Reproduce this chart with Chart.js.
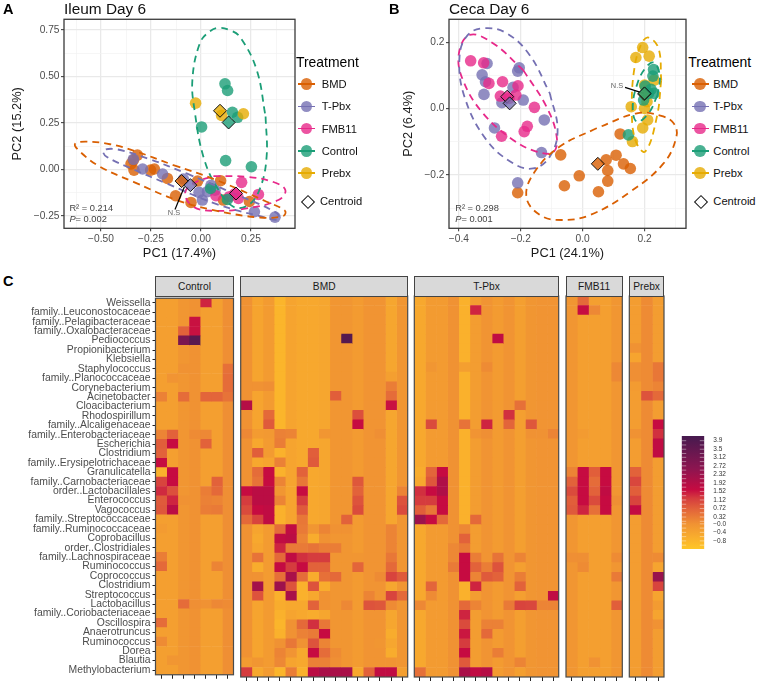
<!DOCTYPE html>
<html>
<head>
<meta charset="utf-8">
<title>Ileum and Ceca Day 6</title>
<script src="https://cdn.jsdelivr.net/npm/chart.js@4/dist/chart.umd.min.js"></script>
<style>
  html, body { margin: 0; padding: 0; background: #fff; }
  #page { position: relative; width: 760px; height: 682px; overflow: hidden; font-family: "Liberation Sans", sans-serif; }
  #page canvas { position: absolute; }
  .abs { position: absolute; white-space: nowrap; }
  .letter { font-weight: bold; font-size: 14.5px; line-height: 16px; color: #000; }
  .legend-title { font-size: 13.9px; line-height: 16px; color: #000; }
  .legend-label { font-size: 11.2px; line-height: 14px; color: #111; }
  .strip { box-sizing: border-box; background: #d9d9d9; border: 1px solid #444; font-size: 10.2px; line-height: 19px; text-align: center; color: #1a1a1a; }
</style>
</head>
<body>
<div id="page"></div>
<script>
'use strict';

// --- legend / treatment colours (Dark2) ---
const treatments = ['BMD', 'T-Pbx', 'FMB11', 'Control', 'Prebx'];
const solidColors = ['#D95F02', '#7570B3', '#E7298A', '#1B9E77', '#E6AB02'];
const pointColors = ['rgba(217,95,2,.8)', 'rgba(117,112,179,.8)', 'rgba(231,41,138,.8)', 'rgba(27,158,119,.8)', 'rgba(230,171,2,.8)'];

// --- A: Ileum Day 6 ---
const ileumBMD = [[-0.318, 0.077], [-0.338, 0.05], [-0.35, 0.029], [-0.335, -0.004], [-0.252, -0.004], [-0.233, 0.002], [-0.168, -0.049], [-0.127, -0.142], [-0.05, -0.178], [-0.017, -0.063], [0.098, -0.061], [0.112, -0.165], [0.242, -0.173]];
const ileumTPbx = [[-0.338, 0.054], [-0.292, 0.002], [-0.192, -0.025], [-0.088, -0.052], [-0.01, -0.124], [0.007, -0.165], [0.032, -0.12], [0.05, -0.086], [0.07, -0.112], [0.267, -0.228], [0.37, -0.257]];
const ileumFMB11 = [[0.203, -0.07], [0.075, -0.142], [0.142, -0.147], [0.167, -0.133], [0.187, -0.156], [0.287, -0.135]];
const ileumControl = [[0.12, 0.46], [0.133, 0.424], [0.157, 0.307], [0.183, 0.28], [0.003, 0.228], [0.123, 0.047], [0.252, 0.014], [0.048, -0.103], [0.132, -0.162]];
const ileumPrebx = [[-0.027, 0.356], [0.103, 0.29], [0.212, 0.299]];
const ileumCentroids = [[-0.097, -0.063], [-0.053, -0.085], [0.175, -0.13], [0.138, 0.252], [0.095, 0.315]];

const ileumEllipseBMD = [[-0.138, 0.023], [0.078, -0.058], [0.328, -0.174], [0.42, -0.223], [0.412, -0.25], [0.295, -0.259], [0.062, -0.219], [-0.122, -0.165], [-0.338, -0.067], [-0.505, 0.014], [-0.605, 0.095], [-0.63, 0.137], [-0.572, 0.149], [-0.455, 0.135], [-0.338, 0.101]];
const ileumEllipseTPbx = [[-0.072, -0.022], [0.162, -0.129], [0.378, -0.234], [0.387, -0.27], [0.295, -0.252], [0.078, -0.187], [-0.172, -0.076], [-0.338, 0], [-0.472, 0.068], [-0.488, 0.101], [-0.422, 0.108], [-0.255, 0.054]];
const ileumEllipseFMB11 = [[0.062, -0.036], [0.228, -0.04], [0.362, -0.068], [0.422, -0.112], [0.387, -0.165], [0.228, -0.21], [0.062, -0.223], [-0.038, -0.201], [-0.08, -0.129], [-0.038, -0.076]];
const ileumEllipseControl = [[0.323, 0.284], [0.328, 0.068], [0.295, -0.103], [0.237, -0.192], [0.162, -0.201], [0.078, -0.094], [0.012, 0.068], [-0.03, 0.302], [-0.043, 0.482], [-0.005, 0.68], [0.045, 0.743], [0.087, 0.761], [0.145, 0.748], [0.195, 0.712], [0.278, 0.536]];

const ileumTicksX = [-0.5, -0.25, 0, 0.25];
const ileumMinorX = [-0.625, -0.375, -0.125, 0.125, 0.375];
const ileumTicksY = [-0.25, 0, 0.25, 0.5, 0.75];
const ileumMinorY = [-0.125, 0.125, 0.375, 0.625];

// --- B: Ceca Day 6 ---
const cecaBMD = [[0.121, -0.076], [-0.071, -0.139], [0.108, -0.14], [0.076, -0.154], [0.132, -0.166], [0.154, -0.18], [0.081, -0.186], [-0.011, -0.202], [-0.059, -0.232], [0.081, -0.218], [0.051, -0.25], [-0.21, -0.253]];
const cecaTPbx = [[-0.309, 0.136], [-0.325, 0.102], [-0.314, 0.081], [-0.319, 0.043], [-0.205, 0.123], [-0.21, 0.113], [-0.225, 0.064], [-0.261, 0.018], [-0.192, 0.026], [-0.124, -0.034], [-0.285, -0.058], [-0.133, -0.132], [-0.21, -0.223]];
const cecaFMB11 = [[-0.362, 0.144], [-0.32, 0.138], [-0.303, 0.076], [-0.259, 0.081], [-0.209, 0.069], [-0.266, 0.038], [-0.216, 0.041], [-0.238, 0.031], [-0.156, 0.004], [-0.179, -0.053], [-0.189, -0.069], [-0.262, -0.083]];
const cecaControl = [[0.229, 0.118], [0.227, 0.098], [0.202, 0.068], [0.221, 0.058], [0.231, 0.046], [0.197, 0.026], [0.213, 0.046], [0.148, -0.079]];
const cecaPrebx = [[0.194, 0.184], [0.172, 0.154], [0.215, 0.158], [0.231, 0.086], [0.2, 0.071], [0.157, 0.006], [0.2, 0.001], [0.208, 0.021], [0.21, -0.034], [0.194, -0.058], [0.161, -0.099]];
const cecaCentroids = [[0.049, -0.166], [-0.236, 0.016], [-0.244, 0.036], [0.2, 0.046], [0.199, 0.044]];

const cecaEllipseBMD = [[0.045, -0.059], [-0.074, -0.114], [-0.155, -0.19], [-0.182, -0.265], [-0.138, -0.32], [-0.068, -0.335], [0.024, -0.32], [0.154, -0.25], [0.262, -0.164], [0.303, -0.084], [0.294, -0.044], [0.251, -0.021], [0.175, -0.014]];
const cecaEllipseTPbx = [[-0.106, 0.046], [-0.081, -0.064], [-0.106, -0.144], [-0.16, -0.18], [-0.225, -0.164], [-0.311, -0.094], [-0.382, 0.036], [-0.398, 0.156], [-0.371, 0.222], [-0.317, 0.242], [-0.246, 0.227], [-0.171, 0.161]];
const cecaEllipseFMB11 = [[-0.192, 0.116], [-0.117, 0.006], [-0.084, -0.084], [-0.095, -0.131], [-0.149, -0.129], [-0.225, -0.094], [-0.322, -0.014], [-0.387, 0.086], [-0.4, 0.166], [-0.365, 0.222], [-0.29, 0.197]];
const cecaEllipseControl = [[0.242, 0.041], [0.213, -0.014], [0.175, -0.039], [0.162, 0.006], [0.177, 0.076], [0.202, 0.121], [0.229, 0.139], [0.249, 0.101]];
const cecaEllipsePrebx = [[0.254, 0.086], [0.24, -0.024], [0.202, -0.129], [0.17, -0.094], [0.159, 0.006], [0.168, 0.126], [0.191, 0.197], [0.213, 0.214], [0.245, 0.182]];

const cecaTicksX = [-0.4, -0.2, 0, 0.2];
const cecaMinorX = [-0.3, -0.1, 0.1, 0.3];
const cecaTicksY = [-0.2, 0, 0.2];
const cecaMinorY = [-0.3, -0.1, 0.1];

// --- C: heatmap ---
const taxa = ['Weissella', 'family..Leuconostocaceae', 'family..Pelagibacteraceae', 'family..Oxalobacteraceae', 'Pediococcus', 'Propionibacterium', 'Klebsiella', 'Staphylococcus', 'family..Planococcaceae', 'Corynebacterium', 'Acinetobacter', 'Cloacibacterium', 'Rhodospirillum', 'family..Alcaligenaceae', 'family..Enterobacteriaceae', 'Escherichia', 'Clostridium', 'family..Erysipelotrichaceae', 'Granulicatella', 'family..Carnobacteriaceae', 'order..Lactobacillales', 'Enterococcus', 'Vagococcus', 'family..Streptococcaceae', 'family..Ruminococcaceae', 'Coprobacillus', 'order..Clostridiales', 'family..Lachnospiraceae', 'Ruminococcus', 'Coprococcus', 'Clostridium', 'Streptococcus', 'Lactobacillus', 'family..Coriobacteriaceae', 'Oscillospira', 'Anaerotruncus', 'Ruminococcus', 'Dorea', 'Blautia', 'Methylobacterium'];

// usual level of each sample column, then the cells that differ: [row, column, value]
const controlBase = [-0.3, -0.3, -0.1, 0.0, -0.3, -0.3, 0.05];
const controlCells = [[0, 4, 1.4], [2, 3, 1.55], [3, 2, 0.7], [3, 3, 1.55], [4, 2, 3.0], [4, 3, 3.7], [7, 2, 0.0], [7, 6, 0.5], [8, 1, -0.05], [8, 6, 0.55], [9, 6, 0.55], [10, 0, 0.25], [10, 2, 0.55], [10, 4, 0.65], [10, 5, 0.65], [10, 6, 0.45], [14, 0, 0.2], [14, 1, 0.7], [14, 3, 0.1], [14, 4, 0.15], [15, 0, 0.75], [15, 1, 1.6], [15, 4, 0.7], [16, 0, 0.7], [17, 0, 1.6], [18, 0, -0.7], [18, 1, 1.6], [19, 0, 1.1], [19, 1, 1.6], [19, 5, 0.7], [20, 0, 1.35], [20, 1, 0.95], [20, 4, 0.3], [20, 5, 0.6], [21, 0, 0.8], [21, 1, 1.4], [21, 2, 0.0], [21, 4, 0.25], [21, 5, 0.2], [22, 0, 0.85], [22, 1, 1.8], [22, 4, 0.3], [22, 5, 0.35], [24, 0, -0.2], [27, 0, 0.3], [28, 0, 0.6], [28, 5, 0.2], [32, 2, 0.55], [32, 3, 0.05], [32, 4, 0.0], [32, 5, 0.15], [32, 6, 0.1], [34, 0, 0.55], [36, 0, 0.1], [38, 1, -0.1]];

const bmdBase = [0.0, -0.4, -0.2, -0.8, -0.4, -0.5, -0.5, -0.45, -0.1, -0.1, -0.2, -0.05, -0.05, -0.45, -0.1];
const bmdCells = [[4, 9, 3.8], [8, 13, -0.3], [9, 1, 0.0], [9, 2, 0.05], [9, 13, 0.3], [10, 8, 0.75], [10, 13, 0.55], [11, 0, 1.9], [11, 13, 1.55], [12, 2, 0.6], [12, 10, 0.95], [13, 2, 0.8], [13, 10, 1.6], [14, 0, 0.15], [14, 1, -0.2], [14, 2, -0.15], [14, 3, 0.25], [14, 4, 0.2], [14, 7, -0.1], [14, 12, 0.05], [15, 1, -0.5], [15, 3, 0.3], [16, 1, 0.75], [16, 3, -0.7], [16, 6, 0.75], [17, 1, -0.5], [17, 2, -0.4], [17, 3, 0.25], [17, 6, 0.8], [18, 1, 0.55], [18, 2, 1.6], [18, 3, -0.7], [18, 5, 0.7], [19, 1, 0.45], [19, 2, 1.6], [19, 3, 0.2], [19, 5, 0.4], [19, 10, 0.85], [20, 0, 1.6], [20, 1, 1.8], [20, 2, 1.8], [20, 3, -0.1], [20, 5, 1.6], [20, 10, 0.7], [20, 14, 0.2], [21, 0, 1.2], [21, 1, 1.8], [21, 2, 1.8], [21, 3, 0.2], [21, 5, 1.2], [21, 10, 0.9], [21, 14, 0.9], [22, 0, 1.0], [22, 1, 1.6], [22, 2, 1.7], [22, 3, -0.7], [22, 5, 0.8], [22, 10, 1.0], [22, 14, 1.0], [23, 0, 0.6], [23, 1, 1.1], [23, 2, 1.7], [23, 3, -0.7], [23, 5, 0.4], [23, 9, 0.7], [24, 3, 0.55], [24, 4, 1.7], [24, 5, 0.35], [24, 6, -0.1], [24, 7, 0.2], [24, 8, 0.0], [24, 9, 0.0], [24, 13, 0.2], [25, 1, -0.5], [25, 3, 1.7], [25, 4, 1.8], [25, 5, 0.2], [25, 6, -0.6], [25, 7, 0.0], [25, 13, 0.2], [26, 3, 1.4], [26, 4, 0.35], [26, 5, 0.35], [26, 6, 0.45], [26, 7, 0.3], [26, 8, 0.3], [26, 13, 0.2], [27, 1, 0.45], [27, 3, 0.6], [27, 4, 1.7], [27, 5, 1.3], [27, 6, 1.2], [27, 7, 1.2], [27, 10, -0.1], [27, 13, 0.4], [28, 1, -0.6], [28, 3, 1.65], [28, 4, 1.2], [28, 5, 1.6], [28, 6, 0.7], [28, 7, 0.7], [28, 10, 0.65], [28, 13, 0.6], [29, 1, 0.0], [29, 3, 0.5], [29, 4, 2.1], [29, 5, 0.55], [29, 6, -0.6], [29, 7, 0.5], [29, 8, 0.6], [29, 12, 0.1], [29, 13, 1.1], [29, 14, 0.8], [30, 1, 2.2], [30, 3, 2.3], [30, 4, 0.9], [30, 5, -0.7], [30, 6, 0.9], [30, 7, -0.6], [31, 1, 0.9], [31, 3, -0.7], [31, 4, 2.1], [31, 5, -0.7], [31, 6, -0.5], [31, 7, 0.0], [31, 11, 0.2], [31, 13, 1.1], [31, 14, 0.6], [32, 3, -0.6], [32, 4, -0.5], [32, 5, -0.5], [32, 6, 0.7], [32, 7, 0.0], [32, 9, 0.15], [32, 11, 0.9], [32, 12, 0.85], [32, 13, 0.1], [33, 3, -0.7], [33, 6, -0.6], [34, 4, 0.0], [34, 5, 0.6], [34, 6, 1.3], [34, 7, 0.4], [34, 12, -0.05], [35, 3, -0.7], [35, 4, 0.0], [35, 5, 0.25], [35, 6, 0.35], [35, 7, 1.6], [35, 13, -0.6], [36, 3, 0.0], [36, 4, 0.4], [36, 5, 0.0], [36, 6, 0.9], [36, 7, 0.2], [36, 12, -0.1], [37, 3, 0.2], [37, 4, -0.05], [37, 6, 1.6], [37, 7, 0.55], [37, 8, 0.1], [37, 13, -0.6], [38, 0, -0.2], [38, 1, -0.1], [38, 3, 0.15], [38, 6, 0.25], [38, 7, 0.25], [38, 8, 0.05], [38, 12, -0.05], [38, 13, -0.05], [39, 0, 1.2], [39, 1, -0.5], [39, 2, -0.2], [39, 3, -0.8], [39, 4, 0.3], [39, 5, -0.7], [39, 6, 1.8], [39, 7, 2.1], [39, 8, 2.1], [39, 9, 2.1], [39, 10, -0.5], [39, 11, 0.7], [39, 12, 1.7], [39, 13, 1.7], [39, 14, -0.3]];

const tpbxBase = [-0.5, -0.2, -0.2, 0.0, -0.7, -0.25, -0.05, -0.2, -0.05, -0.3, -0.1, -0.05, -0.05];
const tpbxCells = [[1, 5, 1.4], [4, 7, 1.7], [7, 1, -0.1], [7, 4, -0.3], [7, 6, 0.1], [11, 9, 0.5], [12, 8, 1.3], [13, 1, 1.0], [13, 4, 0.45], [13, 6, 1.4], [13, 8, 0.65], [13, 10, 0.85], [14, 5, -0.05], [14, 6, 0.05], [14, 10, 0.0], [14, 11, 0.0], [14, 12, 0.2], [18, 0, -0.6], [18, 1, 0.65], [18, 2, 1.6], [19, 1, 0.85], [19, 2, 2.0], [20, 0, 1.3], [20, 1, 1.6], [20, 2, 2.0], [21, 0, 1.2], [21, 1, 1.2], [21, 2, 1.6], [22, 0, 0.75], [22, 1, 0.4], [22, 2, 1.6], [23, 0, 2.3], [23, 1, 1.6], [23, 2, 0.6], [23, 5, 0.6], [24, 4, 0.15], [25, 4, 0.7], [26, 3, 0.15], [26, 4, 0.35], [27, 3, 0.15], [27, 4, 1.6], [27, 5, 0.3], [27, 7, 0.45], [27, 9, 0.2], [28, 3, 0.35], [28, 4, 1.6], [28, 5, 0.7], [28, 6, 0.3], [28, 7, 0.9], [29, 4, 1.6], [29, 5, 0.2], [29, 6, 0.8], [29, 7, 0.7], [29, 9, 0.3], [30, 1, 0.65], [30, 4, -0.7], [30, 5, 1.4], [30, 9, 0.7], [31, 1, 0.1], [31, 4, -0.7], [31, 12, 1.7], [32, 0, 0.15], [32, 4, 0.6], [32, 5, 0.2], [32, 8, 0.35], [32, 9, 1.1], [32, 10, 1.05], [32, 11, 0.2], [32, 12, 0.2], [33, 4, 1.4], [34, 4, 1.0], [34, 6, 0.25], [34, 7, 0.25], [35, 4, 1.5], [35, 6, 0.6], [36, 4, 1.2], [37, 4, 1.6], [37, 7, 0.3], [38, 4, 0.8], [38, 9, 0.2], [39, 0, 0.5], [39, 4, 2.1], [39, 5, 1.7], [39, 6, 1.9]];

const fmbBase = [-0.1, -0.3, -0.3, -0.3, -0.1];
const fmbCells = [[0, 1, 0.6], [1, 1, 1.6], [1, 2, 0.15], [7, 4, 0.15], [8, 4, 0.15], [14, 1, -0.2], [18, 0, 0.2], [18, 1, 1.6], [18, 2, 0.75], [18, 3, 1.6], [19, 0, 0.7], [19, 1, 1.6], [19, 2, 0.55], [19, 3, 1.6], [20, 0, 1.0], [20, 1, 1.6], [20, 2, 0.7], [20, 3, 1.7], [21, 0, 0.75], [21, 1, 1.6], [21, 2, 1.0], [21, 3, 1.6], [21, 4, 0.05], [22, 0, 0.8], [22, 1, 1.4], [22, 2, 0.5], [22, 3, 1.6], [27, 0, 0.05], [27, 1, 0.05], [27, 4, 0.1], [28, 1, 0.1], [29, 4, 0.35], [32, 4, 0.75], [38, 2, 0.0]];

const prebxBase = [-0.25, 0.1, -0.25];
const prebxCells = [[5, 0, 0.0], [6, 0, -0.4], [7, 0, 0.05], [7, 2, 0.4], [8, 0, 0.05], [8, 2, 0.4], [9, 0, -0.2], [9, 2, 0.2], [10, 1, 0.9], [10, 2, 0.6], [13, 2, 1.6], [14, 0, 0.0], [14, 2, 1.3], [15, 2, 1.7], [16, 2, 1.7], [18, 0, 0.7], [19, 0, 1.05], [20, 0, 0.75], [21, 0, 1.1], [22, 0, 1.65], [27, 2, 0.1], [28, 2, -0.4], [29, 2, 2.4], [30, 2, 1.1], [31, 2, -0.4], [32, 2, -0.2], [33, 2, -0.4], [34, 2, 0.0]];

// colour scale [value, colour], and the tick labels of the colour bar
const heatStops = [[-1.18, '#fec627'], [-0.8, '#fbb52b'], [0, '#f09233'], [0.7, '#e2623a'], [1.2, '#d53c3e'], [1.6, '#c60b41'], [2.6, '#8c1550'], [4.12, '#461a4f']];
const colorbarTicks = [-0.8, -0.4, 0, 0.32, 0.72, 1.12, 1.52, 1.92, 2.32, 2.72, 3.12, 3.5, 3.9];
const colorbarLabels = ['−0.8', '−0.4', '−0.0', '0.32', '0.72', '1.12', '1.52', '1.92', '2.32', '2.72', '3.12', '3.5', '3.9'];
const colorbarMarks = [-1, -0.8, -0.6, -0.4, -0.2, 0, 0.12, 0.32, 0.52, 0.72, 0.92, 1.12, 1.32, 1.52, 1.72, 1.92, 2.12, 2.32, 2.52, 2.72, 2.92, 3.12, 3.3, 3.5, 3.7, 3.9];

const page = document.getElementById('page');
const FONT = '"Liberation Sans", sans-serif';
const TICK_COLOR = '#4d4d4d';

function addCanvas(left, top, width, height) {
    const canvas = document.createElement('canvas');
    canvas.width = width;
    canvas.height = height;
    canvas.style.left = left + 'px';
    canvas.style.top = top + 'px';
    canvas.style.width = width + 'px';
    canvas.style.height = height + 'px';
    page.appendChild(canvas);
    return canvas;
}

function addText(cls, text, left, top) {
    const el = document.createElement('div');
    el.className = 'abs ' + cls;
    el.textContent = text;
    el.style.left = left + 'px';
    el.style.top = top + 'px';
    page.appendChild(el);
    return el;
}

function signed(v, digits) {
    return (v < 0 ? '−' : '') + Math.abs(v).toFixed(digits);
}

// dark frame round the plot area
const framePlugin = {
    id: 'frame',
    afterDraw(chart, args, opts) {
        if (!opts.color) {
            return;
        }
        const a = chart.chartArea;
        const ctx = chart.ctx;
        ctx.save();
        ctx.strokeStyle = opts.color;
        ctx.lineWidth = opts.width || 1.2;
        ctx.strokeRect(a.left, a.top, a.right - a.left, a.bottom - a.top);
        ctx.restore();
    }
};

// R2 / P text and the N.S labels, placed in data units
const notesPlugin = {
    id: 'notes',
    afterDatasetsDraw(chart, args, opts) {
        const ctx = chart.ctx;
        ctx.save();
        ctx.textBaseline = 'middle';
        (opts.items || []).forEach(item => {
            let px = chart.scales.x.getPixelForValue(item.x);
            const py = chart.scales.y.getPixelForValue(item.y);
            ctx.fillStyle = item.color || '#444';
            ctx.textAlign = item.align || 'left';
            if (item.italic) {
                ctx.font = 'italic ' + item.size + 'px ' + FONT;
                ctx.fillText(item.italic, px, py);
                px += ctx.measureText(item.italic).width;
            }
            ctx.font = item.size + 'px ' + FONT;
            ctx.fillText(item.text, px, py);
        });
        ctx.restore();
    }
};

function closed(points) {
    return points.concat([points[0]]);
}

function ellipseDataset(points, colorIndex) {
    return {
        type: 'scatter',
        data: closed(points),
        showLine: true,
        fill: false,
        tension: 0.4,
        borderColor: solidColors[colorIndex],
        borderWidth: 1.8,
        borderDash: [7, 5],
        pointRadius: 0,
        order: 2
    };
}

function pointDataset(points, colorIndex, order) {
    return {
        data: points,
        showLine: false,
        pointRadius: 5.8,
        pointBackgroundColor: pointColors[colorIndex],
        pointBorderWidth: 0,
        order: order
    };
}

function centroidDatasets(points) {
    return points.map((p, i) => ({
        data: [p],
        showLine: false,
        pointStyle: 'rectRot',
        pointRadius: 6.5,
        pointBackgroundColor: pointColors[i],
        pointBorderColor: '#111',
        pointBorderWidth: 1,
        order: 0
    }));
}

function pcaScale(major, minor, digits, limits, title, titlePad, fixed) {
    return {
        type: 'linear',
        min: limits[0],
        max: limits[1],
        afterBuildTicks(scale) {
            scale.ticks = major.concat(minor).sort((a, b) => a - b).map(v => ({ value: v }));
        },
        afterFit(scale) {
            if (fixed.width) {
                scale.width = fixed.width;
            } else {
                scale.height = fixed.height;
            }
        },
        ticks: {
            autoSkip: false,
            maxRotation: 0,
            minRotation: 0,
            padding: 1.5,
            color: TICK_COLOR,
            font: { family: FONT, size: 10.2 },
            callback: value => major.includes(value) ? signed(value, digits) : ''
        },
        grid: {
            color: ctx => major.includes(ctx.tick && ctx.tick.value) ? '#e9e9e9' : '#f2f2f2',
            lineWidth: ctx => major.includes(ctx.tick && ctx.tick.value) ? 1.3 : 0.7,
            tickColor: ctx => major.includes(ctx.tick && ctx.tick.value) ? '#333' : 'rgba(0,0,0,0)',
            tickLength: 3,
            tickWidth: 1
        },
        border: { display: false },
        title: {
            display: true,
            text: title,
            color: '#1a1a1a',
            font: { family: FONT, size: 12.8 },
            padding: titlePad
        }
    };
}

function pcaChart(cfg) {
    const canvas = addCanvas(cfg.left, 0, cfg.width, 270);
    return new Chart(canvas, {
        type: 'scatter',
        data: { datasets: cfg.datasets },
        plugins: [framePlugin, notesPlugin],
        options: {
            responsive: false,
            animation: false,
            layout: { autoPadding: false, padding: { top: 0.8, right: 2 } },
            scales: {
                x: pcaScale(cfg.ticksX, cfg.minorX, cfg.digits, cfg.limX, cfg.titleX, { top: 0, bottom: 8.5 }, { height: 41.7 }),
                y: pcaScale(cfg.ticksY, cfg.minorY, cfg.digits, cfg.limY, cfg.titleY, { top: cfg.titlePadY, bottom: 0 }, { width: cfg.axisWidth })
            },
            plugins: {
                legend: { display: false },
                tooltip: { enabled: false },
                title: {
                    display: true,
                    text: cfg.title,
                    align: 'start',
                    fullSize: false,
                    color: '#111',
                    padding: 0,
                    font: { family: FONT, size: 15.4, weight: 'normal' }
                },
                frame: { color: '#3a3a3a', width: 1.3 },
                notes: { items: cfg.notes }
            }
        }
    });
}

// A
pcaChart({
    left: 0,
    width: 297,
    axisWidth: 64,
    title: 'Ileum Day 6',
    titleX: 'PC1 (17.4%)',
    titleY: 'PC2 (15.2%)',
    titlePadY: 10,
    digits: 2,
    ticksX: ileumTicksX,
    minorX: ileumMinorX,
    ticksY: ileumTicksY,
    minorY: ileumMinorY,
    limX: [-0.685, 0.47],
    limY: [-0.317, 0.807],
    datasets: [
        ...centroidDatasets(ileumCentroids),
        { data: [[-0.083, -0.094], [-0.13, -0.216]], showLine: true, borderColor: '#000', borderWidth: 1.2, pointRadius: 0, order: 1 },
        ellipseDataset(ileumEllipseBMD, 0),
        ellipseDataset(ileumEllipseTPbx, 1),
        ellipseDataset(ileumEllipseFMB11, 2),
        ellipseDataset(ileumEllipseControl, 3),
        pointDataset(ileumPrebx, 4, 3),
        pointDataset(ileumControl, 3, 4),
        pointDataset(ileumFMB11, 2, 5),
        pointDataset(ileumTPbx, 1, 6),
        pointDataset(ileumBMD, 0, 7)
    ],
    notes: [
        { x: -0.658, y: -0.21, text: 'R² = 0.214', size: 9.3 },
        { x: -0.658, y: -0.27, italic: 'P', text: '= 0.002', size: 9.3 },
        { x: -0.135, y: -0.237, text: 'N.S', size: 7.4, align: 'center', color: '#666' }
    ]
});

// B
pcaChart({
    left: 380,
    width: 308,
    axisWidth: 69,
    title: 'Ceca Day 6',
    titleX: 'PC1 (24.1%)',
    titleY: 'PC2 (6.4%)',
    titlePadY: 21,
    digits: 1,
    ticksX: cecaTicksX,
    minorX: cecaMinorX,
    ticksY: cecaTicksY,
    minorY: cecaMinorY,
    limX: [-0.432, 0.334],
    limY: [-0.36, 0.269],
    datasets: [
        ...centroidDatasets(cecaCentroids),
        { data: [[0.137, 0.064], [0.197, 0.046]], showLine: true, borderColor: '#000', borderWidth: 1.2, pointRadius: 0, order: 1 },
        ellipseDataset(cecaEllipseBMD, 0),
        ellipseDataset(cecaEllipseTPbx, 1),
        ellipseDataset(cecaEllipseFMB11, 2),
        ellipseDataset(cecaEllipseControl, 3),
        ellipseDataset(cecaEllipsePrebx, 4),
        pointDataset(cecaControl, 3, 3),
        pointDataset(cecaPrebx, 4, 4),
        pointDataset(cecaFMB11, 2, 5),
        pointDataset(cecaTPbx, 1, 6),
        pointDataset(cecaBMD, 0, 7)
    ],
    notes: [
        { x: -0.412, y: -0.3, text: 'R² = 0.298', size: 9.3 },
        { x: -0.412, y: -0.333, italic: 'P', text: '= 0.001', size: 9.3 },
        { x: 0.111, y: 0.069, text: 'N.S', size: 7.4, align: 'center', color: '#666' }
    ]
});

// legends of A and B are plain html next to the plots
function addLegend(titleLeft, keyCenter, labelLeft, centroidCenter, centroidLabelLeft) {
    addText('legend-title', 'Treatment', titleLeft, 54);
    treatments.forEach((name, i) => {
        const y = 84 + i * 22.3;
        const line = document.createElement('div');
        line.className = 'abs';
        line.style.cssText += `left:${keyCenter - 8.5}px;top:${y - 0.75}px;width:17px;height:1.5px;background:${solidColors[i]};`;
        page.appendChild(line);
        const dot = document.createElement('div');
        dot.className = 'abs';
        dot.style.cssText += `left:${keyCenter - 5.8}px;top:${y - 5.8}px;width:11.6px;height:11.6px;border-radius:50%;background:${pointColors[i]};`;
        page.appendChild(dot);
        addText('legend-label', name, labelLeft, y - 7);
    });
    const mark = document.createElement('div');
    mark.className = 'abs';
    mark.style.cssText += `left:${centroidCenter - 4.5}px;top:${201 - 4.5}px;width:8px;height:8px;border:1px solid #111;background:#fff;transform:rotate(45deg);`;
    page.appendChild(mark);
    addText('legend-label', 'Centroid', centroidLabelLeft, 194);
}
addLegend(296, 306.5, 321.7, 307, 320);
addLegend(688.3, 700, 713.3, 700.7, 713.3);

addText('letter', 'A', 3, 1);
addText('letter', 'B', 389, 1);
addText('letter', 'C', 3, 273);

// --- heatmap facets, one stacked horizontal bar chart each ---
function heatColor(v) {
    for (let i = 1; i < heatStops.length; i++) {
        if (v <= heatStops[i][0]) {
            const [v0, c0] = heatStops[i - 1];
            const [v1, c1] = heatStops[i];
            const t = Math.max(0, (v - v0) / (v1 - v0));
            const rgb = [1, 3, 5].map(p => {
                const a = parseInt(c0.substr(p, 2), 16);
                const b = parseInt(c1.substr(p, 2), 16);
                return Math.round(a + (b - a) * t);
            });
            return `rgb(${rgb.join(',')})`;
        }
    }
    return heatStops[heatStops.length - 1][1];
}

function buildGrid(base, cells) {
    const grid = taxa.map(() => base.slice());
    cells.forEach(([row, col, value]) => {
        grid[row][col] = value;
    });
    return grid;
}

const HEAT_TOP = 296;
const HEAT_BOTTOM = 677;
const CANVAS_TOP = 290;
const CANVAS_HEIGHT = 393;

function heatFacet(name, left, right, base, cells, showLabels) {
    const grid = buildGrid(base, cells);
    const canvasLeft = showLabels ? 0 : Math.floor(left) - 2;
    const canvasWidth = Math.ceil(right) + 2 - canvasLeft;
    const canvas = addCanvas(canvasLeft, CANVAS_TOP, canvasWidth, CANVAS_HEIGHT);

    const strip = addText('strip', name, left - 0.5, 275.5);
    strip.style.width = (right - left + 1) + 'px';
    strip.style.height = '21px';

    new Chart(canvas, {
        type: 'bar',
        data: {
            labels: taxa,
            datasets: base.map((_, col) => ({
                data: taxa.map(() => 1),
                backgroundColor: grid.map(row => heatColor(row[col])),
                barPercentage: 1,
                categoryPercentage: 1,
                borderWidth: 0
            }))
        },
        plugins: [framePlugin],
        options: {
            indexAxis: 'y',
            responsive: false,
            animation: false,
            layout: {
                autoPadding: false,
                padding: {
                    top: HEAT_TOP - CANVAS_TOP,
                    left: showLabels ? 0 : left - canvasLeft,
                    right: canvasLeft + canvasWidth - right
                }
            },
            scales: {
                x: {
                    type: 'linear',
                    stacked: true,
                    min: 0,
                    max: base.length,
                    afterBuildTicks(scale) {
                        scale.ticks = base.map((_, col) => ({ value: col + 0.5 }));
                    },
                    afterFit(scale) {
                        scale.height = CANVAS_TOP + CANVAS_HEIGHT - HEAT_BOTTOM;
                    },
                    ticks: { autoSkip: false, maxRotation: 0, callback: () => '' },
                    grid: { drawOnChartArea: false, tickLength: 4, tickColor: '#222', tickWidth: 1 },
                    border: { display: false }
                },
                y: {
                    stacked: true,
                    display: showLabels,
                    afterFit(scale) {
                        if (showLabels) {
                            scale.width = left;
                        }
                    },
                    ticks: {
                        autoSkip: false,
                        padding: 2,
                        color: TICK_COLOR,
                        font: { family: FONT, size: 10.4 }
                    },
                    grid: { offset: false, drawOnChartArea: false, tickLength: 3, tickColor: '#222', tickWidth: 1 },
                    border: { display: false }
                }
            },
            plugins: {
                legend: { display: false },
                tooltip: { enabled: false },
                frame: { color: '#4a4a4a', width: 1.2 }
            }
        }
    });
}

heatFacet('Control', 155.5, 233.5, controlBase, controlCells, true);
heatFacet('BMD', 240.7, 407.7, bmdBase, bmdCells, false);
heatFacet('T-Pbx', 414.3, 558.7, tpbxBase, tpbxCells, false);
heatFacet('FMB11', 566, 622.3, fmbBase, fmbCells, false);
heatFacet('Prebx', 629.3, 664, prebxBase, prebxCells, false);

// --- colour bar ---
const BAR_MIN = heatStops[0][0];
const BAR_MAX = heatStops[heatStops.length - 1][0];

const colorbarMarkPlugin = {
    id: 'colorbarMarks',
    afterDatasetsDraw(chart) {
        const ctx = chart.ctx;
        const a = chart.chartArea;
        ctx.save();
        ctx.strokeStyle = 'rgba(255,255,255,.6)';
        ctx.lineWidth = 0.7;
        colorbarMarks.forEach(v => {
            const y = chart.scales.y.getPixelForValue(v);
            ctx.beginPath();
            ctx.moveTo(a.left, y);
            ctx.lineTo(a.left + 4.5, y);
            ctx.moveTo(a.right - 4.5, y);
            ctx.lineTo(a.right, y);
            ctx.stroke();
        });
        ctx.restore();
    }
};

new Chart(addCanvas(678, 430, 50, 125), {
    type: 'bar',
    data: {
        labels: ['value'],
        datasets: [{
            data: [[BAR_MIN, BAR_MAX]],
            barPercentage: 1,
            categoryPercentage: 1,
            borderWidth: 0,
            backgroundColor(ctx) {
                const y = ctx.chart.scales.y;
                if (!ctx.chart.chartArea || !y) {
                    return heatStops[4][1];
                }
                const g = ctx.chart.ctx.createLinearGradient(0, y.getPixelForValue(BAR_MIN), 0, y.getPixelForValue(BAR_MAX));
                heatStops.forEach(([v, c]) => g.addColorStop((v - BAR_MIN) / (BAR_MAX - BAR_MIN), c));
                return g;
            }
        }]
    },
    plugins: [colorbarMarkPlugin],
    options: {
        responsive: false,
        animation: false,
        layout: { autoPadding: false, padding: { top: 6, bottom: 6, left: 3.7 } },
        scales: {
            x: { display: false },
            y: {
                position: 'right',
                min: BAR_MIN,
                max: BAR_MAX,
                afterBuildTicks(scale) {
                    scale.ticks = colorbarTicks.map(v => ({ value: v }));
                },
                afterFit(scale) {
                    scale.width = 23.7;
                },
                ticks: {
                    autoSkip: false,
                    padding: 1,
                    color: '#333',
                    font: { family: FONT, size: 6.5 },
                    callback: (value, index) => colorbarLabels[index]
                },
                grid: { display: false },
                border: { display: false }
            }
        },
        plugins: {
            legend: { display: false },
            tooltip: { enabled: false }
        }
    }
});
</script>
</body>
</html>
